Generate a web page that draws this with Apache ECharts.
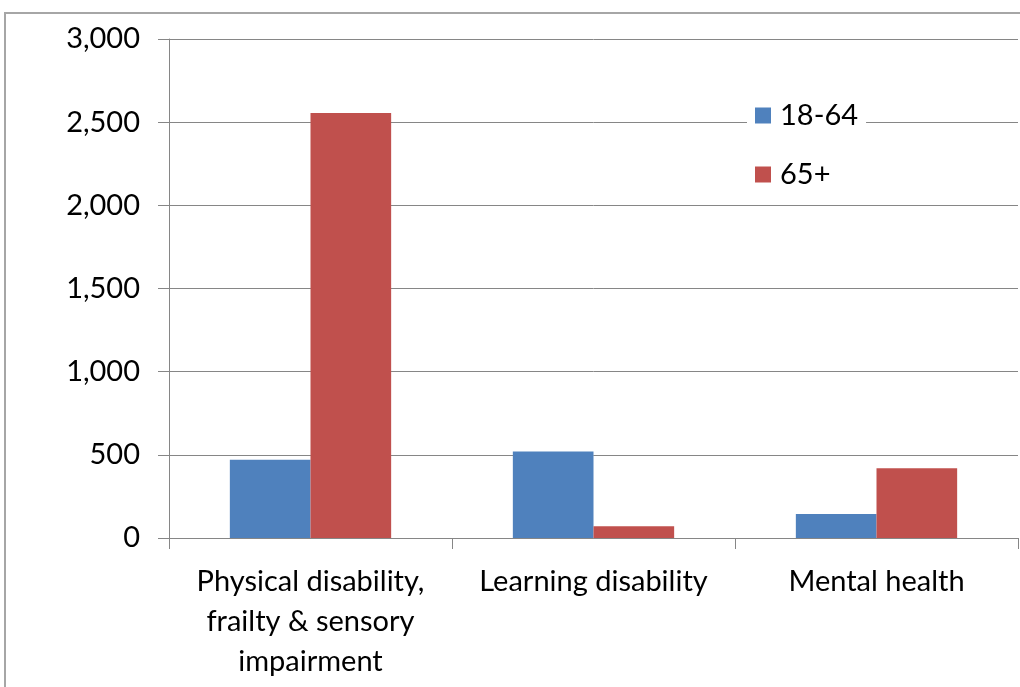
<!DOCTYPE html>
<html>
<head>
<meta charset="utf-8">
<script src="https://cdn.jsdelivr.net/npm/echarts@6/dist/echarts.min.js"></script>
<style>
html,body{margin:0;padding:0;background:#fff;}
#chart{width:1020px;height:687px;}
</style>
</head>
<body>
<div id="chart"></div>
<script>
const categories = ['Physical disability,\nfrailty & sensory\nimpairment', 'Learning disability', 'Mental health'];
const seriesNames = ['18-64', '65+'];
const values1864 = [470, 520, 145];
const values65 = [2555, 70, 420];
const yTicks = { min: 0, max: 3000, interval: 500 };

const FONT = 'Lato';
const chart = echarts.init(document.getElementById('chart'));
chart.setOption({
  animation: false,
  backgroundColor: '#ffffff',
  graphic: [{
    type: 'rect',
    shape: { x: 5, y: 13, width: 1100, height: 800 },
    style: { fill: 'none', stroke: '#a6a6a6', lineWidth: 2 },
    silent: true
  }],
  grid: { left: 169, right: 2, top: 39, bottom: 149 },
  legend: {
    orient: 'vertical',
    left: 747,
    top: 95,
    backgroundColor: '#ffffff',
    padding: [6, 8, 6, 8],
    itemWidth: 16,
    itemHeight: 16,
    itemGap: 30,
    icon: 'rect',
    textStyle: { fontFamily: FONT, fontSize: 29, color: '#000', padding: [0, 0, 0, 4] },
    data: seriesNames
  },
  xAxis: {
    type: 'category',
    data: categories,
    axisLine: { lineStyle: { color: '#868686', width: 1 } },
    axisTick: { show: true, length: 11, lineStyle: { color: '#868686' } },
    axisLabel: { fontFamily: FONT, fontSize: 29, color: '#000', lineHeight: 40, margin: 24, interval: 0 }
  },
  yAxis: {
    type: 'value',
    min: yTicks.min,
    max: yTicks.max,
    interval: yTicks.interval,
    axisLine: { show: true, lineStyle: { color: '#868686', width: 1 } },
    axisTick: { show: true, length: 11, lineStyle: { color: '#868686' } },
    splitLine: { lineStyle: { color: '#868686', width: 1 } },
    axisLabel: {
      fontFamily: FONT, fontSize: 29, color: '#000', margin: 29,
      formatter: v => v.toLocaleString('en-US')
    }
  },
  series: [
    { name: seriesNames[0], type: 'bar', data: values1864, barGap: '0%', barCategoryGap: '43%', itemStyle: { color: '#4F81BD' } },
    { name: seriesNames[1], type: 'bar', data: values65, barGap: '0%', barCategoryGap: '43%', itemStyle: { color: '#C0504D' } }
  ]
});
</script>
</body>
</html>
